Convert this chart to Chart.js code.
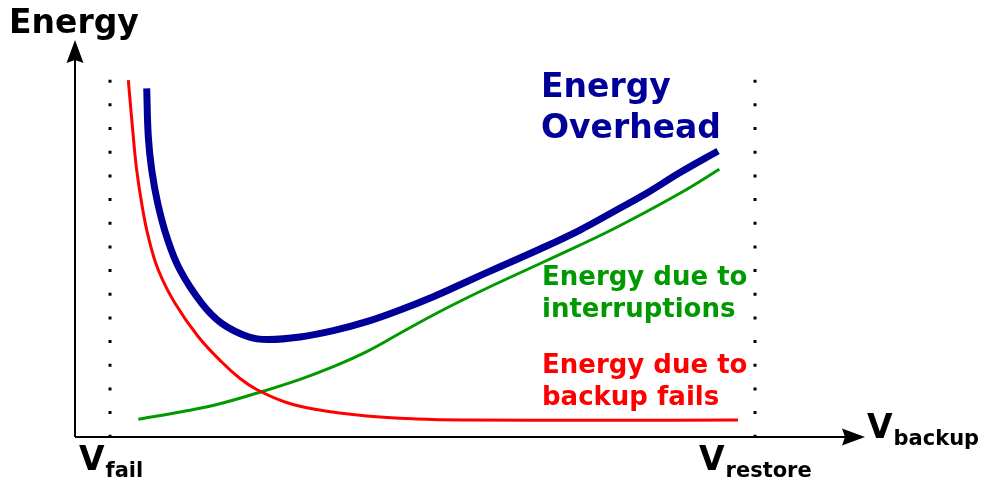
<!DOCTYPE html>
<html lang="en">

<head>
    <meta charset="UTF-8">
    <title>Energy vs V_backup</title>
    <script src="https://cdn.jsdelivr.net/npm/chart.js"></script>
    <style>
        body { margin: 0; background: #fff; }
    </style>
</head>

<body>
    <canvas id="energyChart" width="982" height="483"></canvas>
    <script>
        // x: position of V_backup between V_fail (0) and V_restore (100)
        // y: energy, arbitrary units (0 .. 100)
        const overheadX = [5.69, 5.94, 6.47, 7.40, 8.79, 10.85, 14.22, 17.32, 21.44, 24.50, 29.46, 34.62, 39.80, 44.96, 50.12, 55.30, 60.47, 66.67, 72.87, 77.98, 83.26, 88.37, 94.26];
        const overheadY = [87.83, 75.64, 67.25, 58.87, 50.45, 42.07, 33.68, 28.64, 25.26, 24.56, 25.19, 26.78, 29.04, 31.99, 35.34, 39.12, 42.90, 47.36, 52.14, 56.68, 61.46, 66.62, 72.04];

        const interruptX = [4.39, 11.12, 16.28, 22.99, 29.46, 34.62, 39.80, 44.96, 50.12, 55.30, 60.47, 67.71, 78.03, 88.37, 94.47];
        const interruptY = [4.46, 6.37, 8.06, 11.16, 14.53, 17.71, 21.49, 26.12, 30.73, 35.01, 39.04, 44.46, 52.39, 61.39, 67.43];

        const backupFailX = [2.84, 3.61, 4.14, 4.91, 5.94, 7.49, 10.08, 13.69, 17.32, 20.16, 22.74, 27.13, 31.78, 39.80, 47.55, 55.30, 75.97, 97.36];
        const backupFailY = [89.92, 75.64, 67.25, 58.87, 50.45, 42.07, 33.68, 25.26, 18.89, 14.74, 11.96, 8.82, 6.98, 5.29, 4.53, 4.28, 4.21, 4.28];

        // dotted markers at the two voltage thresholds
        const thresholdX = [0, 100];
        const thresholdTop = 90;

        const labelFont = '"DejaVu Sans", sans-serif';

        function toPoints(xs, ys) {
            return xs.map((x, i) => ({ x: x, y: ys[i] }));
        }

        function curve(label, xs, ys, color, width) {
            return {
                label: label,
                data: toPoints(xs, ys),
                borderColor: color,
                borderWidth: width,
                tension: 0.4,
                borderCapStyle: 'butt',
                borderJoinStyle: 'round',
                pointRadius: 0,
                fill: false
            };
        }

        function thresholdLine(x) {
            return {
                data: [{ x: x, y: thresholdTop }, { x: x, y: 0 }],
                borderColor: '#000',
                borderWidth: 3,
                borderDash: [3, 20.67],
                borderCapStyle: 'butt',
                pointRadius: 0
            };
        }

        function arrowHead(ctx, tipX, tipY, dirX, dirY) {
            // arrow head pointing along (dirX, dirY), slightly notched at the back
            const len = 23, half = 8.5, notch = 3;
            const nx = -dirY, ny = dirX;
            ctx.beginPath();
            ctx.moveTo(tipX, tipY);
            ctx.lineTo(tipX - dirX * len + nx * half, tipY - dirY * len + ny * half);
            ctx.lineTo(tipX - dirX * (len - notch), tipY - dirY * (len - notch));
            ctx.lineTo(tipX - dirX * len - nx * half, tipY - dirY * len - ny * half);
            ctx.closePath();
            ctx.fill();
        }

        function subLabel(ctx, main, sub, x, y, subDrop, subSize) {
            ctx.font = 'bold 33px ' + labelFont;
            ctx.fillText(main, x, y);
            const w = ctx.measureText(main).width;
            ctx.font = 'bold ' + subSize + 'px ' + labelFont;
            ctx.fillText(sub, x + w + 1, y + subDrop);
        }

        const axesPlugin = {
            id: 'axesPlugin',
            beforeDatasetsDraw(chart) {
                const ctx = chart.ctx;
                const area = chart.chartArea;
                const x0 = area.left;
                const y0 = chart.scales.y.getPixelForValue(0);
                ctx.save();
                ctx.strokeStyle = '#000';
                ctx.fillStyle = '#000';
                ctx.lineWidth = 2;
                ctx.beginPath();
                ctx.moveTo(x0, y0);
                ctx.lineTo(area.right - 15, y0);
                ctx.moveTo(x0, y0);
                ctx.lineTo(x0, area.top + 15);
                ctx.stroke();
                arrowHead(ctx, area.right, y0, 1, 0);
                arrowHead(ctx, x0, area.top, 0, -1);
                ctx.restore();
            },
            afterDraw(chart) {
                const ctx = chart.ctx;
                ctx.save();
                ctx.textBaseline = 'alphabetic';
                ctx.textAlign = 'left';

                ctx.fillStyle = '#000';
                ctx.font = 'bold 33px ' + labelFont;
                ctx.fillText('Energy', 9, 33);

                subLabel(ctx, 'V', 'fail', 79, 470, 7, 21);
                subLabel(ctx, 'V', 'restore', 699, 470, 7, 21);
                subLabel(ctx, 'V', 'backup', 867, 438, 7, 21);

                ctx.fillStyle = '#000099';
                ctx.font = 'bold 33px ' + labelFont;
                ctx.fillText('Energy', 541, 97);
                ctx.fillText('Overhead', 541, 138);

                ctx.font = 'bold 26px ' + labelFont;
                ctx.fillStyle = '#009900';
                ctx.fillText('Energy due to', 542, 285);
                ctx.fillText('interruptions', 542, 317);

                ctx.fillStyle = '#ff0000';
                ctx.fillText('Energy due to', 542, 373);
                ctx.fillText('backup fails', 542, 405);
                ctx.restore();
            }
        };

        const data = {
            datasets: [
                thresholdLine(thresholdX[0]),
                thresholdLine(thresholdX[1]),
                curve('Energy due to backup fails', backupFailX, backupFailY, '#ff0000', 3),
                curve('Energy due to interruptions', interruptX, interruptY, '#009900', 3),
                curve('Energy Overhead', overheadX, overheadY, '#000099', 7)
            ]
        };

        const config = {
            type: 'line',
            data: data,
            plugins: [axesPlugin],
            options: {
                responsive: false,
                animation: false,
                layout: {
                    padding: { left: 75, right: 117, top: 40, bottom: 46 }
                },
                scales: {
                    x: { type: 'linear', min: -5.426, max: 117.05, display: false },
                    y: { type: 'linear', min: 0, max: 100, display: false }
                },
                plugins: {
                    legend: { display: false },
                    tooltip: { enabled: false }
                }
            }
        };
        const ctx = document.querySelector('#energyChart').getContext('2d');
        const energyChart = new Chart(ctx, config);
    </script>
</body>

</html>
